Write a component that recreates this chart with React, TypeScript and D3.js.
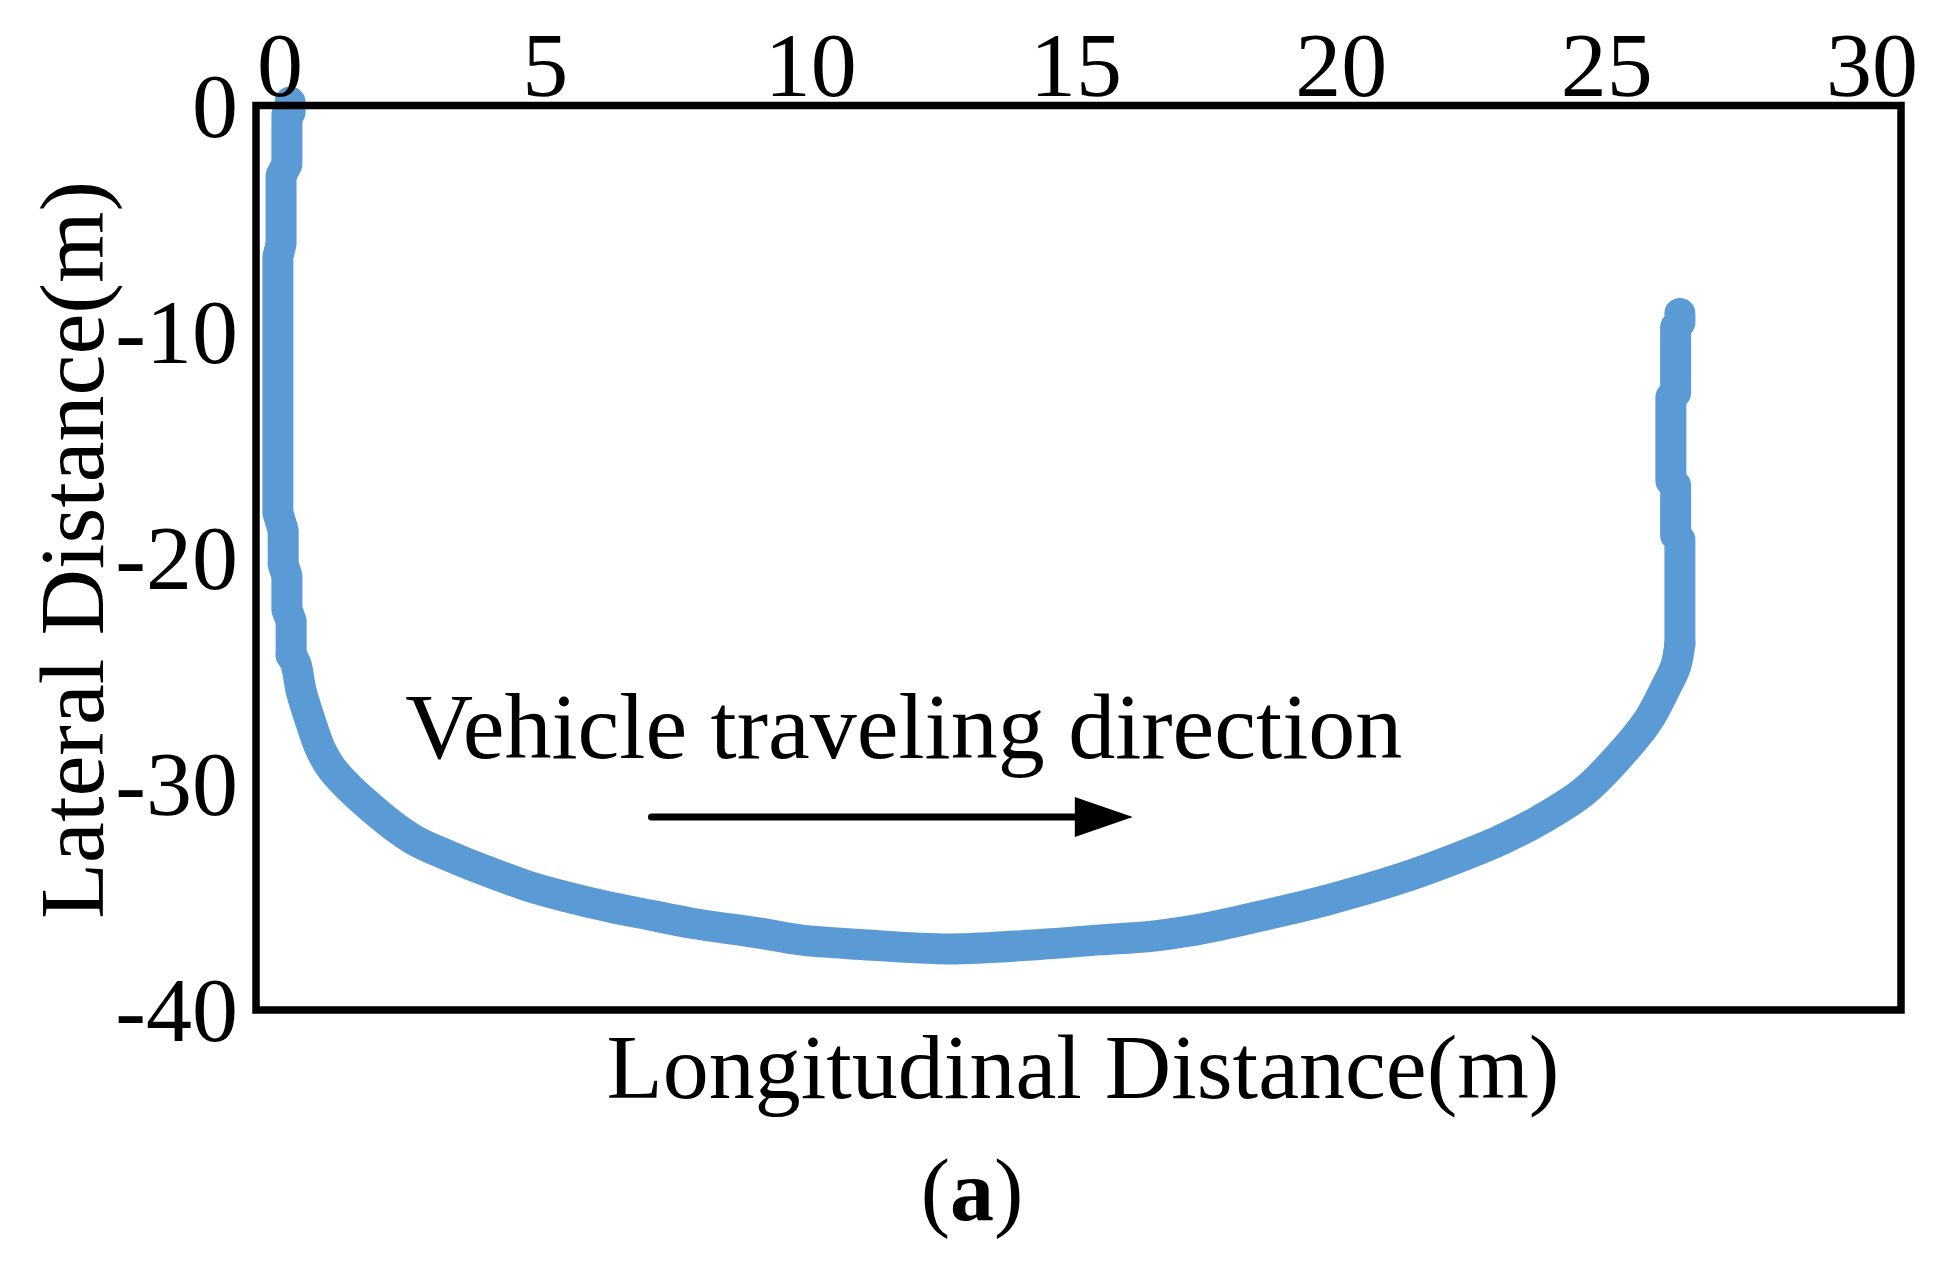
import React from "react";
import * as d3 from "d3";

// ---- data ----
const trajX: number[] = [
  0.19, 0.19, 0.13, 0.13, 0.02, 0.02, -0.04, -0.04, 0.06, 0.06, 0.13, 0.13, 0.21, 0.21,
  0.30, 0.40, 0.57, 0.77, 1.00, 1.64, 2.47, 3.20, 3.83, 4.65, 5.41, 6.22, 6.97, 7.73, 9.04,
  9.80, 10.93, 12.62, 14.32, 15.45, 16.39, 17.15, 17.71, 18.47, 19.79, 21.10, 22.05,
  22.99, 23.74, 24.59, 25.34, 25.78, 26.10, 26.30, 26.38, 26.38, 26.30, 26.30, 26.21,
  26.21, 26.30, 26.30, 26.38, 26.38,
];
const trajY: number[] = [
  0.15, -0.3, -0.4, -2.6, -3.1, -6.1, -6.7, -18.0, -18.8, -20.3, -20.8, -22.3, -22.8, -24.3,
  -24.7, -25.9, -27.2, -28.5, -29.4, -30.9, -32.4, -33.2, -33.8, -34.5, -35.0, -35.45, -35.8, -36.15, -36.6,
  -36.9, -37.1, -37.3, -37.1, -36.9, -36.75, -36.5, -36.25, -35.85, -35.1, -34.2, -33.4,
  -32.5, -31.6, -30.3, -28.5, -27.2, -25.8, -24.8, -23.8, -19.2, -19.0, -16.8, -16.6,
  -12.9, -12.7, -9.8, -9.6, -9.2,
];
// index range of the smooth U-turn (the straight legs are drawn point to point)
const bendStart = 13;
const bendEnd = 48;

const xTicks: number[] = [0, 5, 10, 15, 20, 25, 30];
const yTicks: number[] = [0, -10, -20, -30, -40];
const xTitle = "Longitudinal Distance(m)";
const yTitle = "Lateral Distance(m)";
const annotation = "Vehicle traveling direction";
const arrowFrom: [number, number] = [7.0, -31.47];
const arrowTo: [number, number] = [16.07, -31.47];
const textAt: [number, number] = [2.36, -28.86];

const W = 1948;
const H = 1279;
const FONT = "'Liberation Serif', 'Times New Roman', Times, serif";
const FS = 92;
const BLUE = "#5B9BD5";

export default function App() {
  const x = d3.scaleLinear().domain([0, 30]).range([280, 1872]);
  const y = d3.scaleLinear().domain([0, -40]).range([105.5, 1010]);
  const frame = { left: 256, right: 1901, top: y(0), bottom: y(-40) };

  const pts: [number, number][] = trajX.map((v, i) => [v, trajY[i]]);
  const lin = d3
    .line<[number, number]>()
    .x((d) => x(d[0]))
    .y((d) => y(d[1]))
    .curve(d3.curveLinear);
  const smooth = d3
    .line<[number, number]>()
    .x((d) => x(d[0]))
    .y((d) => y(d[1]))
    .curve(d3.curveCatmullRom.alpha(0.5));

  const segs = [
    lin(pts.slice(0, bendStart + 1)) || "",
    smooth(pts.slice(bendStart, bendEnd + 1)) || "",
    lin(pts.slice(bendEnd)) || "",
  ];

  const ax0 = x(arrowFrom[0]);
  const ax1 = x(arrowTo[0]);
  const ay = y(arrowFrom[1]);
  const headLen = 58;
  const headHalf = 20;

  return (
    <svg
      width={W}
      height={H}
      style={{ position: "absolute", left: 0, top: 0, background: "#fff" }}
      fontFamily={FONT}
    >
      <rect x={0} y={0} width={W} height={H} fill="#fff" />
      {/* trajectory */}
      {segs.map((d, i) => (
        <path
          key={i}
          d={d}
          fill="none"
          stroke={BLUE}
          strokeWidth={31}
          strokeLinejoin="round"
          strokeLinecap="round"
        />
      ))}
      {/* frame */}
      <rect
        x={frame.left}
        y={frame.top}
        width={frame.right - frame.left}
        height={frame.bottom - frame.top}
        fill="none"
        stroke="#000"
        strokeWidth={7.5}
      />
      {/* top x tick labels */}
      {xTicks.map((t) => (
        <text key={"x" + t} x={x(t)} y={96} fontSize={FS} textAnchor="middle" fill="#000">
          {t}
        </text>
      ))}
      {/* y tick labels */}
      {yTicks.map((t) => (
        <text
          key={"y" + t}
          x={238}
          y={y(t) + FS * 0.34}
          fontSize={FS}
          textAnchor="end"
          fill="#000"
        >
          {t}
        </text>
      ))}
      {/* axis titles */}
      <text x={1083} y={1098} fontSize={FS} textAnchor="middle" fill="#000">
        {xTitle}
      </text>
      <text
        transform={`translate(103, 550) rotate(-90)`}
        fontSize={FS}
        textAnchor="middle"
        fill="#000"
      >
        {yTitle}
      </text>
      {/* annotation */}
      <text x={x(textAt[0])} y={y(textAt[1])} fontSize={94} fill="#000">
        {annotation}
      </text>
      <line
        x1={ax0}
        y1={ay}
        x2={ax1 - headLen + 2}
        y2={ay}
        stroke="#000"
        strokeWidth={7}
        strokeLinecap="round"
      />
      <path
        d={`M${ax1},${ay} L${ax1 - headLen},${ay - headHalf} L${ax1 - headLen},${ay + headHalf} Z`}
        fill="#000"
      />
      {/* panel label */}
      <text x={972} y={1220} fontSize={88} textAnchor="middle" fill="#000">
        (<tspan fontWeight="bold">a</tspan>)
      </text>
    </svg>
  );
}
